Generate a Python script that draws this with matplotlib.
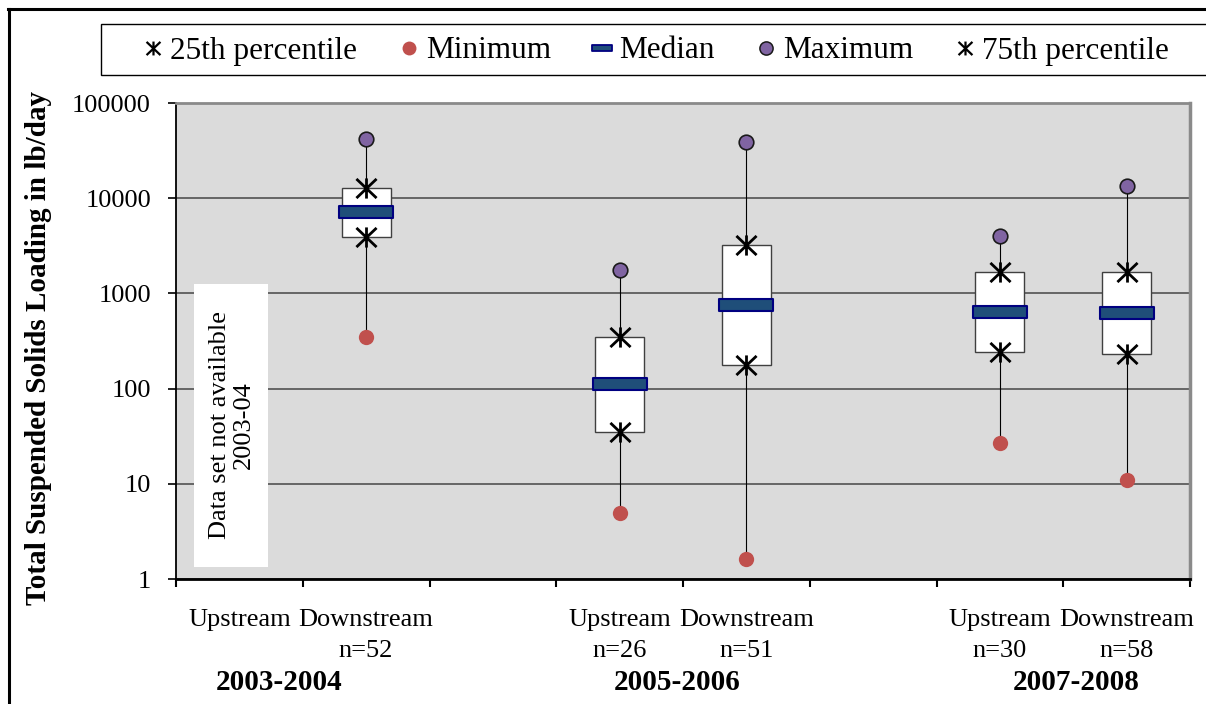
import matplotlib
matplotlib.use('Agg')
import matplotlib.pyplot as plt
import numpy as np
from matplotlib.path import Path
from matplotlib.lines import Line2D
from matplotlib.patches import Rectangle
from matplotlib.ticker import NullLocator

plt.rcParams['font.family'] = ['Liberation Serif', 'DejaVu Serif']

# ---------------- data ----------------
categories = ["Upstream", "Downstream", "Upstream", "Downstream", "Upstream", "Downstream"]
n_labels = ["", "n=52", "n=26", "n=51", "n=30", "n=58"]
periods = ["2003-2004", "2005-2006", "2007-2008"]
minimum = [np.nan, 350, 4.9, 1.62, 27, 11]
p25 = [np.nan, 3950, 35, 177, 244, 229]
median = [np.nan, 7150, 112, 755, 638, 627]
p75 = [np.nan, 12700, 346, 3220, 1670, 1690]
maximum = [np.nan, 41600, 1760, 38600, 4010, 13300]
y_ticks = [1, 10, 100, 1000, 10000, 100000]
y_label = "Total Suspended Solids Loading in lb/day"
na_note = "Data set not available\n2003-04"

# ---------------- layout ----------------
x_pos = np.array([0.5, 1.5, 3.5, 4.5, 6.5, 7.5])
period_pos = [0.81, 3.95, 7.1]

W, H = 1206, 704
fig = plt.figure(figsize=(W / 100, H / 100), dpi=100)


def fx(px):
    return px / W


def fy(py):
    return 1 - py / H


ax = fig.add_axes([fx(176), fy(579), (1190 - 176) / W, (579 - 103) / H])
ax.set_facecolor('#DBDBDB')
ax.set_yscale('log')
ax.set_ylim(1, 1e5)
ax.set_xlim(0, 8)
ax.set_yticks(y_ticks)
ax.set_yticklabels([str(v) for v in y_ticks], fontsize=19)
ax.yaxis.set_minor_locator(NullLocator())
ax.set_xticks(range(9))
ax.set_xticklabels([])
ax.tick_params(axis='y', direction='out', length=6, width=1.2, pad=12, colors='black')
ax.tick_params(axis='x', direction='out', length=6, width=1.5)
ax.grid(axis='y', color='#454545', lw=1.1)
ax.grid(axis='x', visible=False)
ax.set_axisbelow(True)

for s in ['left', 'bottom']:
    ax.spines[s].set_color('black')
ax.spines['left'].set_linewidth(1.3)
ax.spines['bottom'].set_linewidth(2)
for s in ['top', 'right']:
    ax.spines[s].set_color('#8a8a8a')
ax.spines['top'].set_linewidth(2)
ax.spines['right'].set_linewidth(2.5)

mn = np.array(minimum, float)
q1 = np.array(p25, float)
md = np.array(median, float)
q3 = np.array(p75, float)
mx = np.array(maximum, float)
ok = ~np.isnan(md)

ax.vlines(x_pos[ok], mn[ok], mx[ok], color='black', lw=0.8, zorder=2)
ax.bar(x_pos[ok], q3[ok] - q1[ok], bottom=q1[ok], width=0.386, color='white',
       edgecolor='#404040', lw=1, zorder=3)

med_marker = Path([(-1, -0.204), (1, -0.204), (1, 0.204), (-1, 0.204), (-1, -0.204)],
                  [Path.MOVETO, Path.LINETO, Path.LINETO, Path.LINETO, Path.CLOSEPOLY])
ax.plot(x_pos[ok], md[ok], ls='none', marker=med_marker, ms=39, mfc='#1F4E79',
        mec='#000080', mew=1.5, zorder=4)

star = Path([(0, -1), (0, 1), (-1, -0.95), (1, 0.95), (-1, 0.95), (1, -0.95)],
            [Path.MOVETO, Path.LINETO, Path.MOVETO, Path.LINETO, Path.MOVETO, Path.LINETO])
ax.plot(x_pos[ok], q1[ok], ls='none', marker=star, ms=14.5, mfc='none', mec='black',
        mew=2.0, zorder=5)
ax.plot(x_pos[ok], q3[ok], ls='none', marker=star, ms=14.5, mfc='none', mec='black',
        mew=2.0, zorder=5)
ax.plot(x_pos[ok], mn[ok], ls='none', marker='o', ms=11, mfc='#C0504D', mec='#C0504D',
        mew=0, zorder=6)
ax.plot(x_pos[ok], mx[ok], ls='none', marker='o', ms=10.5, mfc='#8064A2', mec='#1a1a1a',
        mew=1.2, zorder=6)

# category labels
for xp, cat, nl in zip(x_pos, categories, n_labels):
    xf = ax.transData.transform((xp, 1))[0] / W
    fig.text(xf, fy(620), cat, ha='center', va='center', fontsize=19)
    if nl:
        fig.text(xf, fy(651), nl, ha='center', va='center', fontsize=19)
for pp, per in zip(period_pos, periods):
    xf = ax.transData.transform((pp, 1))[0] / W
    fig.text(xf, fy(682), per, ha='center', va='center', fontsize=21, weight='bold')

# y label
fig.text(fx(39), fy(348), y_label, rotation=90, ha='center', va='center',
         fontsize=21, weight='bold')

# not available note
fig.add_artist(Rectangle((fx(194), fy(567)), (268 - 194) / W, (567 - 284) / H,
                         transform=fig.transFigure, facecolor='white', edgecolor='none',
                         zorder=2))
fig.text(fx(232), fy(425), na_note, rotation=90, ha='center', va='center',
         multialignment='center', fontsize=19, linespacing=1.15, zorder=3)

# legend
fig.add_artist(Rectangle((fx(101), fy(75)), (1260 - 101) / W, (75 - 24) / H,
                         transform=fig.transFigure, facecolor='white', edgecolor='black',
                         lw=1, zorder=2))
leg_med = Path([(-1, -0.3), (1, -0.3), (1, 0.3), (-1, 0.3), (-1, -0.3)],
               [Path.MOVETO, Path.LINETO, Path.LINETO, Path.LINETO, Path.CLOSEPOLY])
handles = [
    Line2D([], [], ls='none', marker=star, ms=10, mfc='none', mec='black', mew=1.6),
    Line2D([], [], ls='none', marker='o', ms=10, mfc='#C0504D', mec='#C0504D', mew=0),
    Line2D([], [], ls='none', marker=leg_med, ms=15, mfc='#1F4E79', mec='#000080', mew=1.3),
    Line2D([], [], ls='none', marker='o', ms=9.5, mfc='#8064A2', mec='#1a1a1a', mew=1.1),
    Line2D([], [], ls='none', marker=star, ms=10, mfc='none', mec='black', mew=1.6),
]
labels = ["25th percentile", "Minimum", "Median", "Maximum", "75th percentile"]
leg = fig.legend(handles, labels, ncol=5, loc='center left',
                 bbox_to_anchor=(fx(144), fy(51)), frameon=False, fontsize=22.5,
                 handlelength=0.6, handletextpad=0.24, columnspacing=1.35,
                 borderpad=0, borderaxespad=0)
leg.set_zorder(5)

# outer frame
fig.add_artist(Line2D([fx(8.5), fx(8.5)], [0, fy(8.5)], color='black', lw=2.2,
                      transform=fig.transFigure))
fig.add_artist(Line2D([fx(7.5), 1], [fy(8.5), fy(8.5)], color='black', lw=2.2,
                      transform=fig.transFigure))

fig.savefig('out.png', dpi=100)
